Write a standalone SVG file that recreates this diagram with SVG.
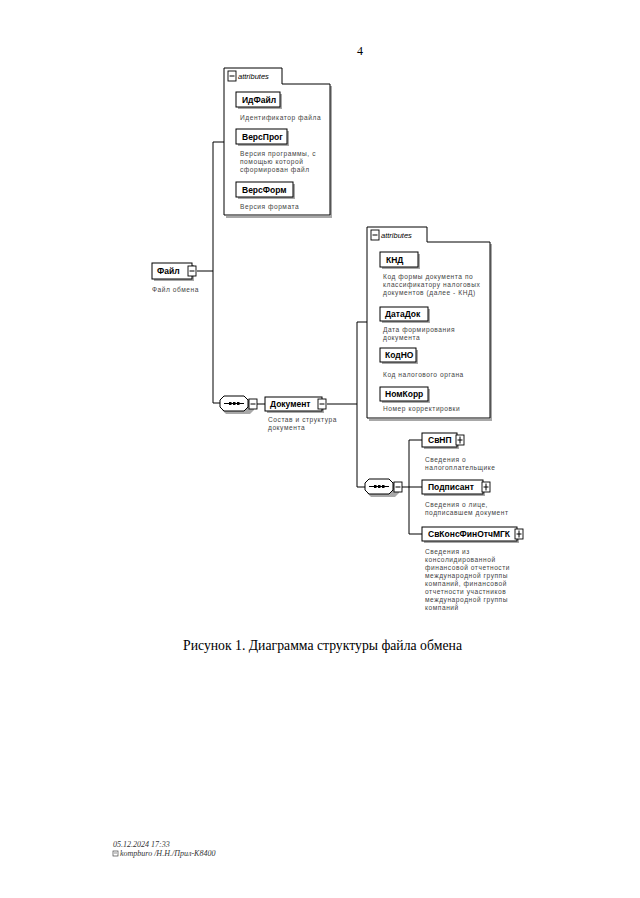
<svg xmlns="http://www.w3.org/2000/svg" width="640" height="898" viewBox="0 0 640 898">
<style>
.bg{fill:#fff}
.box{fill:#fff;stroke:#000;stroke-width:1}
.sh{fill:#a8a8a8}
.shl{fill:none;stroke:#a8a8a8;stroke-width:2}
.frame{fill:#fff;stroke:#000;stroke-width:1}
.ln{stroke:#000;stroke-width:1;fill:none}
.ico{fill:#fff;stroke:#000;stroke-width:0.9}
.name{font-family:"Liberation Sans",Arial,sans-serif;font-weight:bold;font-size:8.5px;fill:#000}
.desc{font-family:"Liberation Sans",Arial,sans-serif;font-size:6.6px;letter-spacing:0.55px;fill:#444}
.attr{font-family:"Liberation Sans",Arial,sans-serif;font-style:italic;font-size:7.5px;fill:#000}
.serif{font-family:"Liberation Serif","Times New Roman",serif;fill:#000}
.foot{font-family:"Liberation Serif","Times New Roman",serif;font-style:italic;font-size:8px;fill:#333}
</style>
<defs>
<g id="minus"><rect class="ico" x="0" y="0" width="8" height="10"/><line class="ln" x1="1.5" y1="5" x2="6.5" y2="5"/></g>
<g id="plus"><rect class="ico" x="0" y="0" width="8" height="10"/><line class="ln" x1="1.5" y1="5" x2="6.5" y2="5"/><line class="ln" x1="4" y1="1.5" x2="4" y2="8.5"/></g>
<g id="seq">
<path class="sh" d="M6,3 H30 L34,7 V14 L30,18 H6 L2,14 V7 Z"/>
<path class="box" d="M4,0 H24 L28,4 V11 L24,15 H4 L0,11 V4 Z"/>
<line class="ln" x1="4" y1="7.5" x2="24" y2="7.5"/>
<rect x="9" y="6" width="2.5" height="3" fill="#000"/><rect x="13" y="6" width="2.5" height="3" fill="#000"/><rect x="17" y="6" width="2.5" height="3" fill="#000"/>
</g>
</defs>
<rect class="bg" x="0" y="0" width="640" height="898"/>

<text class="serif" x="357" y="55" font-size="12">4</text>

<g id="connectors">
<line class="ln" x1="197" y1="271" x2="213" y2="271"/>
<polyline class="ln" points="224,142 213,142 213,403 220,403"/>
<line class="ln" x1="256" y1="404" x2="265" y2="404"/>
<line class="ln" x1="327" y1="404" x2="357" y2="404"/>
<polyline class="ln" points="367,322 357,322 357,487 365,487"/>
<line class="ln" x1="401" y1="487" x2="409" y2="487"/>
<polyline class="ln" points="422,440 409,440 409,534 422,534"/>
<line class="ln" x1="409" y1="487" x2="422" y2="487"/>
</g>

<g id="attrs1">
<path class="shl" d="M331,86 V217 H226"/>
<path class="frame" d="M224,68 H282 V84 H330 V215 H224 Z"/>
<use href="#minus" x="228" y="71" transform="translate(0,0)"/>
<text class="attr" x="238" y="79">attributes</text>
</g>

<g id="node-IdFile">
<rect class="sh" x="238" y="94" width="44" height="15"/>
<rect class="box" x="236" y="92" width="44" height="15"/>
<text class="name" x="242" y="102.5">ИдФайл</text>
<text class="desc" x="240" y="120">Идентификатор файла</text>
</g>
<g id="node-VersProg">
<rect class="sh" x="238" y="131" width="51" height="15"/>
<rect class="box" x="236" y="129" width="51" height="15"/>
<text class="name" x="242" y="139.5">ВерсПрог</text>
<text class="desc" x="240" y="156">Версия программы, с</text>
<text class="desc" x="240" y="164">помощью которой</text>
<text class="desc" x="240" y="172">сформирован файл</text>
</g>
<g id="node-VersForm">
<rect class="sh" x="238" y="184" width="57" height="15"/>
<rect class="box" x="236" y="182" width="57" height="15"/>
<text class="name" x="242" y="192.5">ВерсФорм</text>
<text class="desc" x="240" y="209">Версия формата</text>
</g>

<g id="node-File">
<rect class="sh" x="154" y="265" width="40" height="16"/>
<rect class="box" x="152" y="263" width="40" height="16"/>
<text class="name" x="157" y="274">Файл</text>
<use href="#minus" x="188" y="266"/>
<text class="desc" x="152" y="292">Файл обмена</text>
</g>

<g id="seq1">
<use href="#seq" x="220" y="396"/>
<use href="#minus" x="249" y="399"/>
</g>

<g id="node-Document">
<rect class="sh" x="267" y="399" width="57" height="14"/>
<rect class="box" x="265" y="397" width="57" height="14"/>
<text class="name" x="270" y="407">Документ</text>
<use href="#minus" x="318" y="399"/>
<text class="desc" x="268" y="422">Состав и структура</text>
<text class="desc" x="268" y="430">документа</text>
</g>

<g id="attrs2">
<path class="shl" d="M491,244 V420 H369"/>
<path class="frame" d="M367,227 H427 V242 H490 V418 H367 Z"/>
<use href="#minus" x="371" y="230"/>
<text class="attr" x="381" y="238">attributes</text>
</g>

<g id="node-KND">
<rect class="sh" x="382" y="254" width="38" height="15"/>
<rect class="box" x="380" y="252" width="38" height="15"/>
<text class="name" x="386" y="262.5">КНД</text>
<text class="desc" x="383" y="279">Код формы документа по</text>
<text class="desc" x="383" y="287">классификатору налоговых</text>
<text class="desc" x="383" y="295">документов (далее - КНД)</text>
</g>
<g id="node-DataDok">
<rect class="sh" x="382" y="309" width="48" height="14"/>
<rect class="box" x="380" y="307" width="48" height="14"/>
<text class="name" x="385" y="317">ДатаДок</text>
<text class="desc" x="383" y="332">Дата формирования</text>
<text class="desc" x="383" y="340">документа</text>
</g>
<g id="node-KodNO">
<rect class="sh" x="382" y="350" width="36" height="14"/>
<rect class="box" x="380" y="348" width="36" height="14"/>
<text class="name" x="385" y="358">КодНО</text>
<text class="desc" x="383" y="377">Код налогового органа</text>
</g>
<g id="node-NomKorr">
<rect class="sh" x="382" y="389" width="48" height="14"/>
<rect class="box" x="380" y="387" width="48" height="14"/>
<text class="name" x="385" y="397">НомКорр</text>
<text class="desc" x="383" y="411">Номер корректировки</text>
</g>

<g id="seq2">
<use href="#seq" x="365" y="479"/>
<use href="#minus" x="394" y="482"/>
</g>

<g id="node-SvNP">
<rect class="sh" x="424" y="435" width="35" height="14"/>
<rect class="box" x="422" y="433" width="35" height="14"/>
<text class="name" x="428" y="443">СвНП</text>
<use href="#plus" x="456" y="435"/>
<text class="desc" x="425" y="462">Сведения о</text>
<text class="desc" x="425" y="470">налогоплательщике</text>
</g>
<g id="node-Podpisant">
<rect class="sh" x="424" y="482" width="61" height="14"/>
<rect class="box" x="422" y="480" width="61" height="14"/>
<text class="name" x="428" y="490">Подписант</text>
<use href="#plus" x="482" y="482"/>
<text class="desc" x="425" y="507">Сведения о лице,</text>
<text class="desc" x="425" y="515">подписавшем документ</text>
</g>
<g id="node-SvKonsFinOtchMGK">
<rect class="sh" x="424" y="529" width="95" height="14"/>
<rect class="box" x="422" y="527" width="95" height="14"/>
<text class="name" x="428" y="537">СвКонсФинОтчМГК</text>
<use href="#plus" x="515" y="529"/>
<text class="desc" x="425" y="554">Сведения из</text>
<text class="desc" x="425" y="562">консолидированной</text>
<text class="desc" x="425" y="570">финансовой отчетности</text>
<text class="desc" x="425" y="578">международной группы</text>
<text class="desc" x="425" y="586">компаний, финансовой</text>
<text class="desc" x="425" y="594">отчетности участников</text>
<text class="desc" x="425" y="602">международной группы</text>
<text class="desc" x="425" y="610">компаний</text>
</g>

<text class="serif" x="322.5" y="650" font-size="15" text-anchor="middle" textLength="279" lengthAdjust="spacingAndGlyphs">Рисунок 1. Диаграмма структуры файла обмена</text>

<g id="footer">
<text class="foot" x="113" y="847">05.12.2024 17:33</text>
<rect x="113" y="851" width="5" height="5" fill="none" stroke="#444" stroke-width="0.7"/>
<line x1="114" y1="853" x2="117" y2="853" stroke="#444" stroke-width="0.6"/>
<text class="foot" x="120" y="856">kompburo /Н.Н./Прил-К8400</text>
</g>
</svg>
